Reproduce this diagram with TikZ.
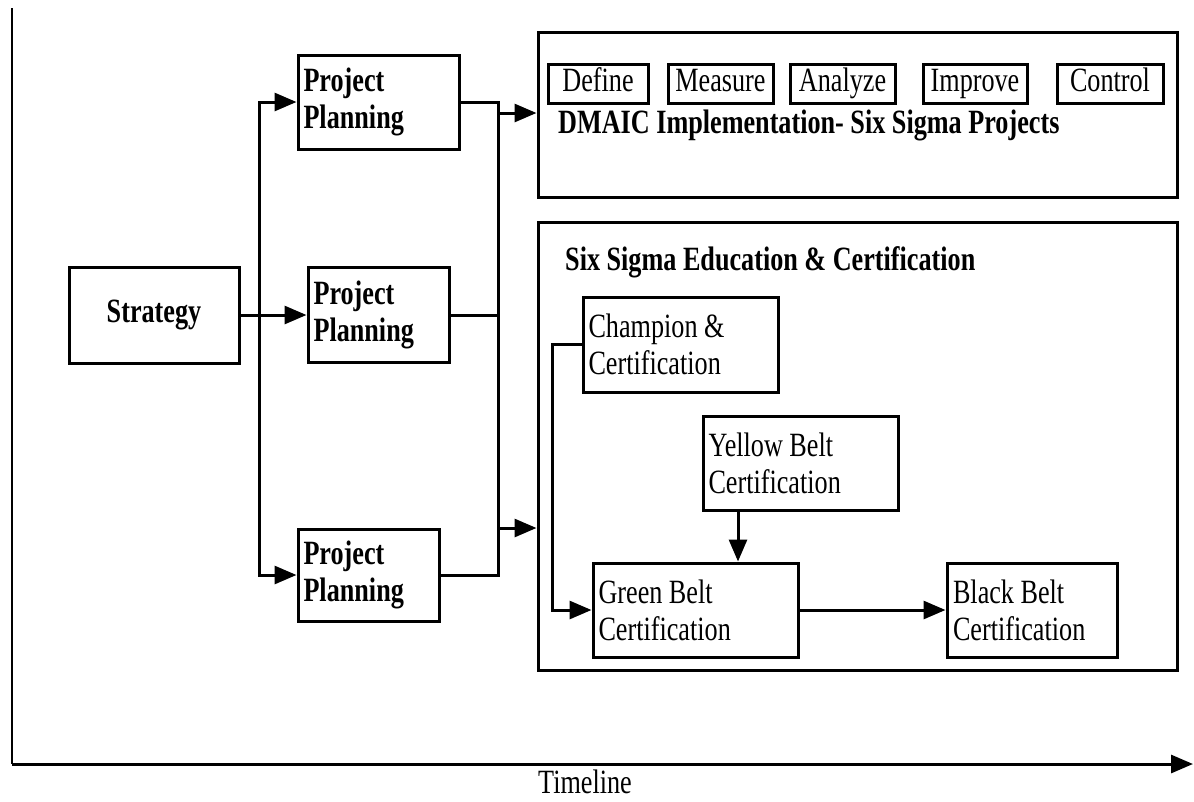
\documentclass[tikz,border=0pt]{standalone}
\usepackage{fontspec}
\setmainfont{Liberation Serif}[FakeStretch=0.77]
\usetikzlibrary{arrows.meta,positioning,calc}

\begin{document}
\begin{tikzpicture}[x=1pt, y=-1pt,
    every node/.style={font=\fontsize{34}{37}\selectfont},
    blk/.style={draw, line width=3pt, inner sep=5pt, align=flush left},
    tag/.style={draw, line width=3pt, inner sep=0pt, minimum height=39pt, text height=22pt, text depth=6pt},
    frame/.style={draw, line width=3pt, inner sep=0pt},
    link/.style={line width=3pt},
    arr/.style={link, -{Triangle[length=22pt,width=18pt]}}]
  \useasboundingbox (0,0) rectangle (1194,801);

  % time axis
  \coordinate (origin) at (12,764);
  \coordinate (ytop) at (12,8);
  \coordinate (xend) at (1193,764);
  \draw[line width=2.4pt] (ytop) -- (origin);
  \draw[arr] (origin) -- (xend);
  \node[inner sep=0pt] (timeline) at (585,782) {Timeline};

  % strategy and planning
  \node[blk, minimum width=170pt, minimum height=96pt, align=center] (strat) at (154,315) {\textbf{Strategy}};
  \node[blk, minimum width=161pt, minimum height=94pt, text width=150pt] (plan1) at (378.5,102) {\textbf{Project}\\\textbf{Planning}};
  \node[blk, minimum width=141pt, minimum height=95pt, text width=130pt] (plan2) at (378.5,315) {\textbf{Project}\\\textbf{Planning}};
  \node[blk, minimum width=141pt, minimum height=92pt, text width=130pt] (plan3) at (368.5,575) {\textbf{Project}\\\textbf{Planning}};

  % DMAIC projects
  \node[frame, minimum width=639pt, minimum height=165pt] (dmaic) at (857.5,114.5) {};
  \node[tag, minimum width=100pt] (define) at (598,83.5) {Define};
  \node[tag, minimum width=105pt] (measure) at (720.5,83.5) {Measure};
  \node[tag, minimum width=105pt] (analyze) at (842.5,83.5) {Analyze};
  \node[tag, minimum width=104pt] (improve) at (975,83.5) {Improve};
  \node[tag, minimum width=106pt] (control) at (1110,83.5) {Control};
  \node[anchor=base west, inner sep=0pt] (dmaictitle) at (558,133) {\textbf{DMAIC Implementation- Six Sigma Projects}};

  % education
  \node[frame, minimum width=639pt, minimum height=448pt] (edu) at (857.5,446) {};
  \node[anchor=base west, inner sep=0pt] (edutitle) at (565,270) {\textbf{Six Sigma Education \& Certification}};
  \node[blk, minimum width=195pt, minimum height=95pt, text width=184pt] (champ) at (680.5,344.5) {Champion \&\\Certification};
  \node[blk, minimum width=195pt, minimum height=94pt, text width=184pt] (yellow) at (800.5,463) {Yellow Belt\\Certification};
  \node[blk, minimum width=205pt, minimum height=94pt, text width=194pt] (green) at (695.5,610) {Green Belt\\Certification};
  \node[blk, minimum width=170pt, minimum height=94pt, text width=158pt] (black) at (1032,610) {Black Belt\\Certification};

  % connectors
  \coordinate (split) at (259,315);
  \coordinate (merge) at (498,315);
  \coordinate (toproj) at (498,113);
  \coordinate (toedu) at (498,528);
  \draw[arr] (strat) -- (plan2);
  \draw[arr] (split) |- (plan1);
  \draw[arr] (split) |- (plan3);
  \draw[link] (plan1) -| (merge) |- (plan3);
  \draw[link] (plan2) -- (merge);
  \draw[arr] (toproj) -- (toproj -| dmaic.west);
  \draw[arr] (toedu) -- (toedu -| edu.west);
  \draw[arr] (champ.west) -- ++(-29,0) |- (green);
  \draw[arr] ([xshift=-62.5pt]yellow.south) -- ([xshift=-62.5pt]yellow.south |- green.north);
  \draw[arr] (green) -- (black);
\end{tikzpicture}
\end{document}
